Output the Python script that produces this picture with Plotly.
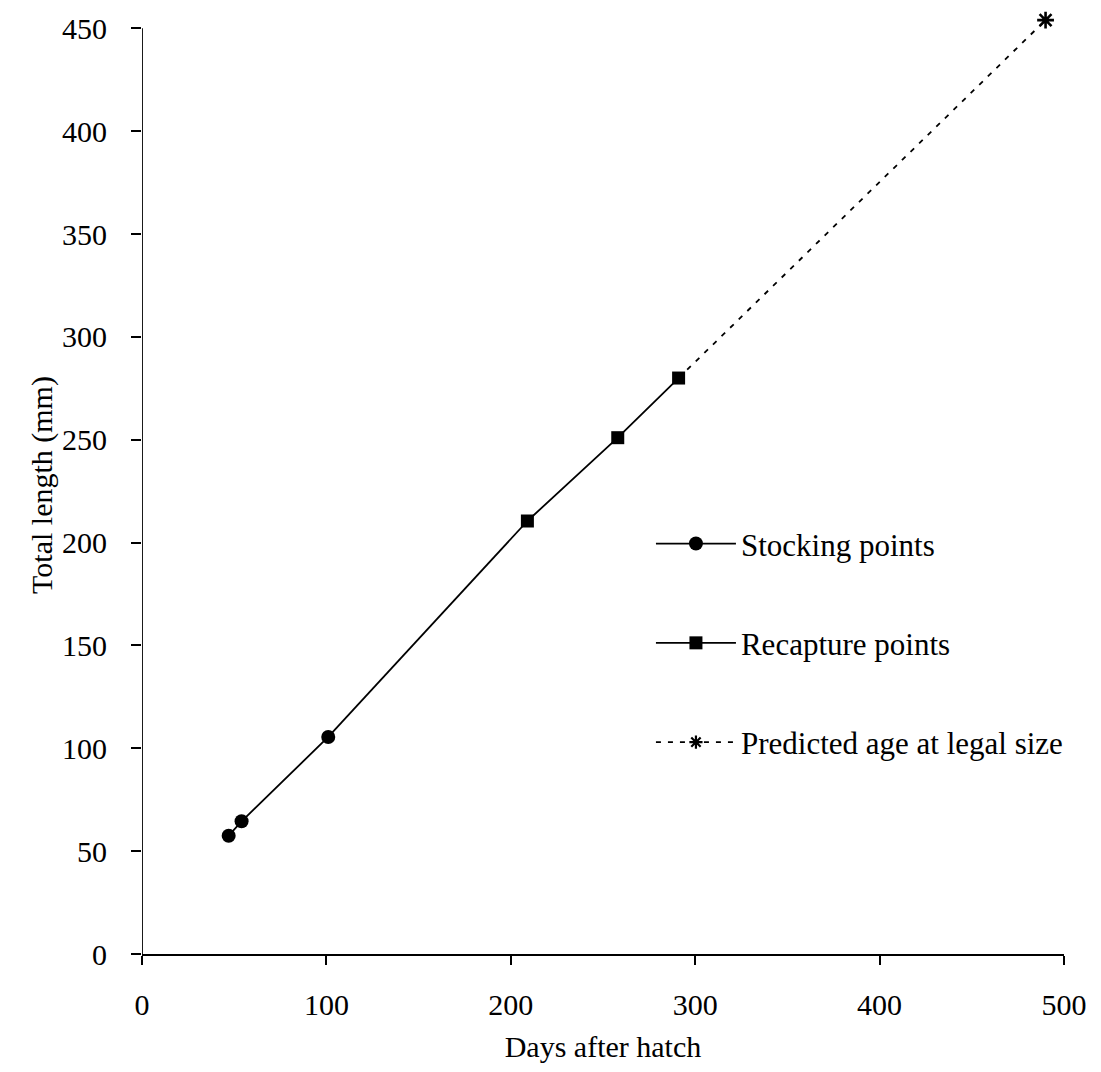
import plotly.graph_objects as go

# ---- data ----
stocking_days = [47, 54, 101]
stocking_len = [57.5, 64.5, 105.5]
recapture_days = [209, 258, 291]
recapture_len = [210.5, 251, 280]
predicted_days = [291, 490]
predicted_len = [280, 454]

x_ticks = [0, 100, 200, 300, 400, 500]
y_ticks = [0, 50, 100, 150, 200, 250, 300, 350, 400, 450]

FONT = "Liberation Serif, Times New Roman, serif"
BLACK = "#000000"

fig = go.Figure()

# connecting segment between last stocking point and first recapture point
fig.add_trace(go.Scatter(
    x=[stocking_days[-1], recapture_days[0]],
    y=[stocking_len[-1], recapture_len[0]],
    mode="lines", line=dict(color=BLACK, width=1.8),
    showlegend=False, hoverinfo="skip"))

fig.add_trace(go.Scatter(
    x=stocking_days, y=stocking_len, name="Stocking points",
    mode="lines+markers", legendgroup="a",
    line=dict(color=BLACK, width=1.8),
    marker=dict(symbol="circle", size=14, color=BLACK)))

fig.add_trace(go.Scatter(
    x=recapture_days, y=recapture_len, name="Recapture points",
    mode="lines+markers", legendgroup="b",
    line=dict(color=BLACK, width=1.8),
    marker=dict(symbol="square", size=13, color=BLACK)))

# predicted: dashed projection, asterisk at the final point only
fig.add_trace(go.Scatter(
    x=predicted_days, y=predicted_len,
    mode="lines", legendgroup="c", showlegend=False,
    line=dict(color=BLACK, width=1.8, dash="5px,7px")))
fig.add_trace(go.Scatter(
    x=predicted_days[-1:], y=predicted_len[-1:],
    mode="markers", legendgroup="c", showlegend=False,
    marker=dict(symbol="asterisk-open", size=14, color=BLACK,
                line=dict(color=BLACK, width=2.6)),
    cliponaxis=False))
# legend entry for the predicted series (no data drawn)
fig.add_trace(go.Scatter(
    x=[None], y=[None], name="Predicted age at legal size",
    mode="lines+markers", legendgroup="c",
    line=dict(color=BLACK, width=1.8, dash="5px,7px"),
    marker=dict(symbol="asterisk-open", size=11, color=BLACK,
                line=dict(color=BLACK, width=2.2))))

# y axis line only up to 450
fig.add_shape(type="line", xref="x", yref="y", x0=0, x1=0, y0=0, y1=450,
              line=dict(color=BLACK, width=1.8))

fig.update_layout(
    width=1101, height=1072,
    margin=dict(l=142, r=37, t=13, b=118),
    paper_bgcolor="white", plot_bgcolor="white",
    font=dict(family=FONT, size=30, color=BLACK),
    showlegend=True,
    legend=dict(x=0.552, y=0.466, xanchor="left", yanchor="top",
                bgcolor="rgba(0,0,0,0)", itemwidth=80,
                tracegroupgap=56, font=dict(family=FONT, size=31, color=BLACK)),
    xaxis=dict(range=[0, 500], tickvals=x_ticks, ticktext=[str(v) for v in x_ticks],
               showgrid=False, zeroline=False, showline=True, linecolor=BLACK,
               linewidth=1.8, ticks="outside", ticklen=9, tickwidth=1.5,
               tickcolor=BLACK, ticklabelstandoff=14,
               title=dict(text="Days after hatch", standoff=16,
                          font=dict(family=FONT, size=30))),
    yaxis=dict(range=[0, 456], tickvals=y_ticks, ticktext=[str(v) for v in y_ticks],
               showgrid=False, zeroline=False, showline=False,
               ticks="outside", ticklen=10, tickwidth=1.5, tickcolor=BLACK,
               ticklabelstandoff=18,
               title=dict(text="Total length (mm)", standoff=0,
                          font=dict(family=FONT, size=30))),
)

fig.write_html("out.html")
